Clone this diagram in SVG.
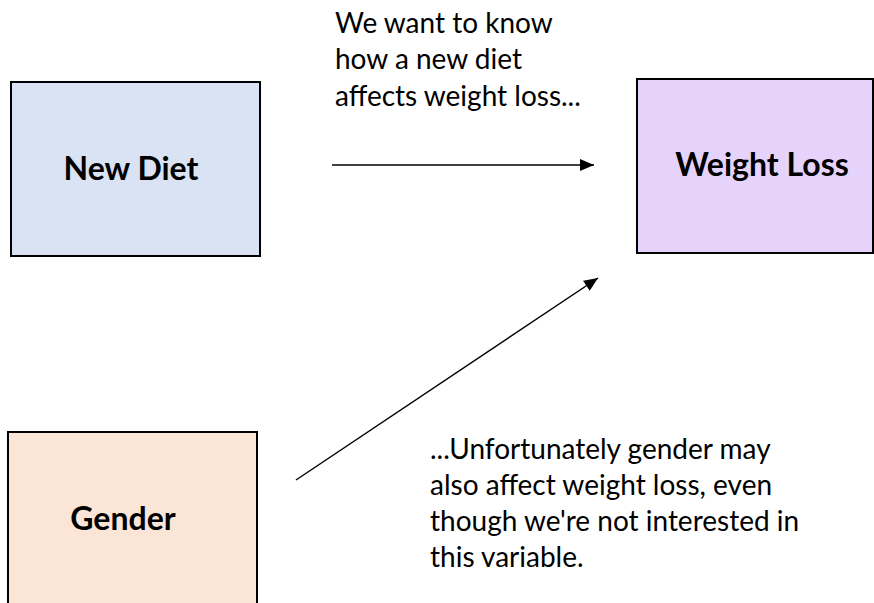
<svg xmlns="http://www.w3.org/2000/svg" width="874" height="603" viewBox="0 0 874 603">
<style>
.box{stroke:#000;stroke-width:2}
.lbl{font-family:Lato,"Liberation Sans",sans-serif;font-weight:bold;font-size:32px;fill:#000;text-anchor:middle}
.note{font-family:Lato,"Liberation Sans",sans-serif;font-size:28px;fill:#000}
.conn{stroke:#000;stroke-width:1.5;fill:none}
</style>
<defs>
<marker id="ah" viewBox="0 0 14 12" refX="14" refY="6" markerWidth="14" markerHeight="12" markerUnits="userSpaceOnUse" orient="auto">
<path d="M0,0 L14,6 L0,12 Z" fill="#000"/>
</marker>
</defs>
<rect width="874" height="603" fill="#fff"/>
<g id="new-diet">
<rect class="box" x="11" y="82" width="249" height="174" fill="#dae3f3"/>
<text class="lbl" x="131" y="180">New Diet</text>
</g>
<g id="weight-loss">
<rect class="box" x="637" y="79" width="236" height="174" fill="#e6d3fb"/>
<text class="lbl" x="762" y="176">Weight Loss</text>
</g>
<g id="gender">
<rect class="box" x="8" y="432" width="249" height="180" fill="#fbe5d6"/>
<text class="lbl" x="123" y="530">Gender</text>
</g>
<g id="connectors">
<line class="conn" x1="332" y1="165" x2="594" y2="165" marker-end="url(#ah)"/>
<line class="conn" x1="296" y1="480" x2="598" y2="278" marker-end="url(#ah)"/>
</g>
<g id="notes">
<text class="note"><tspan x="335" y="33">We want to know</tspan><tspan x="335" y="69">how a new diet</tspan><tspan x="335" y="106">affects weight loss...</tspan></text>
<text class="note"><tspan x="430" y="459">...Unfortunately gender may</tspan><tspan x="430" y="495">also affect weight loss, even</tspan><tspan x="430" y="531">though we're not interested in</tspan><tspan x="430" y="567">this variable.</tspan></text>
</g>
</svg>
